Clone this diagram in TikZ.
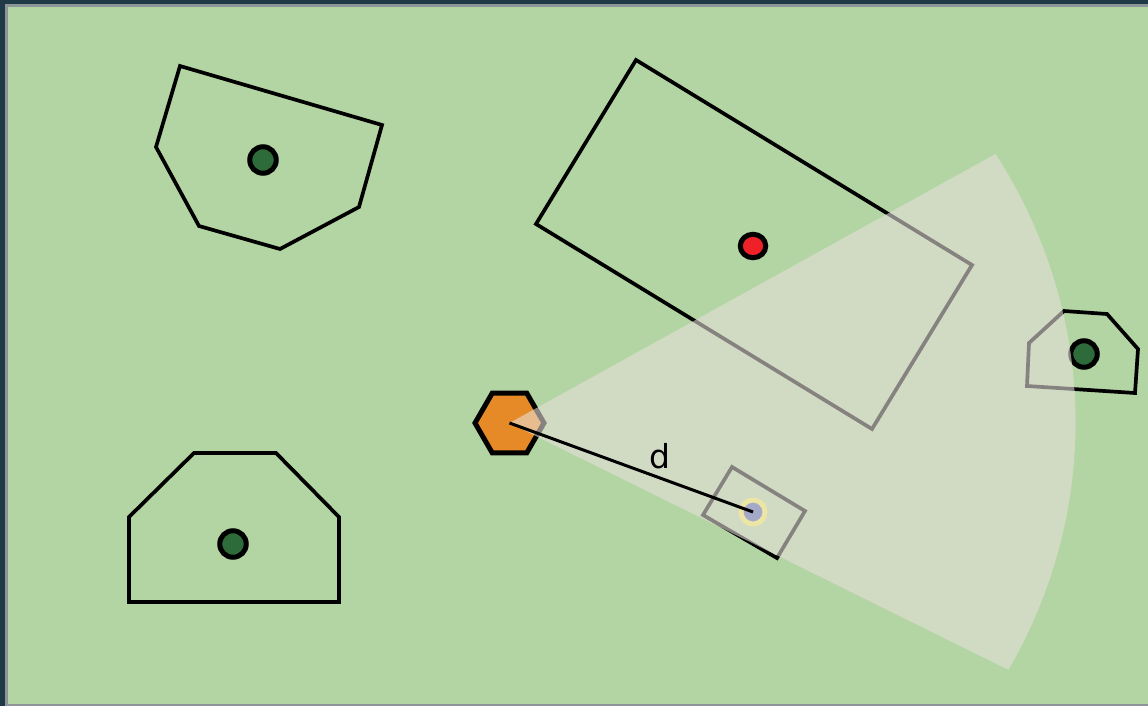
\documentclass[tikz,border=0pt]{standalone}
\usepackage{fontspec}
\newfontfamily\dfont{DejaVu Sans}
\usetikzlibrary{shapes.geometric}
\definecolor{bgdark}{HTML}{1F3947}
\definecolor{bggrey}{HTML}{8E9598}
\definecolor{field}{HTML}{B3D5A3}
\definecolor{dotgreen}{HTML}{2E6B3A}
\definecolor{dotred}{HTML}{EE2028}
\definecolor{hexorange}{HTML}{E68A28}
\definecolor{sectorc}{RGB}{232,225,219}
\definecolor{ringyellow}{HTML}{ECE5A6}
\definecolor{tgtblue}{HTML}{A4A9C8}
\tikzset{
  obstacle/.style={draw=black, line width=3.7pt, line join=miter},
  gdot/.style={circle, draw=black, line width=5pt, fill=dotgreen, minimum size=26.5pt, inner sep=0pt},
  rdot/.style={ellipse, draw=black, line width=5pt, fill=dotred, minimum width=25.5pt, minimum height=23.5pt, inner sep=0pt},
  hexbox/.style={regular polygon, regular polygon sides=6, draw=black, line width=5pt, fill=hexorange, minimum size=69pt, inner sep=0pt},
  fov/.style={fill=sectorc, fill opacity=0.58},
  tgtdot/.style={circle, draw=ringyellow, line width=5pt, fill=tgtblue, minimum size=24pt, inner sep=0pt},
  dline/.style={draw=black, line width=3pt}
}
\begin{document}
\begin{tikzpicture}[x=1pt,y=-1pt]
\useasboundingbox (0,0) rectangle (1148,706);
\fill[bgdark] (0,0) rectangle (1148,706);
\fill[bggrey] (5,4) rectangle (1148,706);
\fill[field] (8,7) rectangle (1148,704);
% obstacles
\draw[obstacle] (180,66) -- (382,125) -- (359,207) -- (280,249) -- (199,226) -- (156,147) -- cycle;
\node[gdot] (g1) at (263,160) {};
\draw[obstacle] (636,60) -- (972,265) -- (872,429) -- (536,224) -- cycle;
\node[rdot] (r1) at (753,246) {};
\draw[obstacle] (1064,311) -- (1107,314) -- (1138,349) -- (1135,393) -- (1027,386) -- (1029,343) -- cycle;
\node[gdot] (g2) at (1084,354) {};
\draw[obstacle] (194,453) -- (276,453) -- (339,517) -- (339,602) -- (129,602) -- (129,517) -- cycle;
\node[gdot] (g3) at (233,544) {};
% robot
\node[hexbox] (hex) at (509.5,423) {};
% target box
\draw[obstacle] (732,467) -- (805,511) -- (777,558) -- (703,515) -- cycle;
% field of view
\fill[fov] (hex.center) -- ++(486,-269) arc[start angle=-30.85, end angle=28.2, x radius=566, y radius=523.5] -- cycle;
\node[tgtdot] (tgt) at (753,512) {};
\draw[dline] (hex.center) -- (tgt.center);
\node[font=\dfont\fontsize{33}{33}\selectfont, inner sep=0pt] (dl) at (659.5,456) {d};
\end{tikzpicture}
\end{document}
